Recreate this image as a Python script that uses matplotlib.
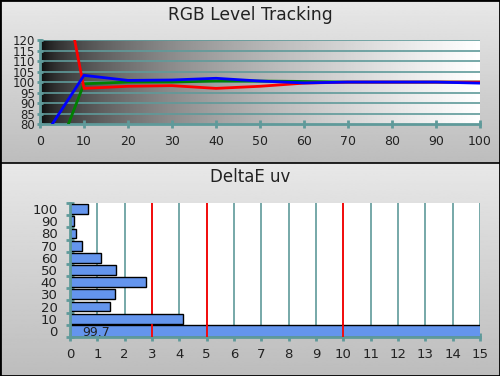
import numpy as np
import matplotlib.pyplot as plt

# RGB level tracking data (stimulus %, level %)
levels = [0, 10, 20, 30, 40, 50, 60, 70, 80, 90, 100]
red = [205, 97, 98, 98.3, 97, 98, 99.5, 100, 100, 100, 100]
green = [45, 99.2, 100, 100, 100.5, 100.5, 100.3, 100, 100, 100, 100]
blue = [71, 103.2, 100.8, 101, 101.8, 100.5, 99.6, 100, 100, 100, 99.5]

# DeltaE uv per gray step
steps = ["0", "10", "20", "30", "40", "50", "60", "70", "80", "90", "100"]
deltae = [99.7, 4.15, 1.45, 1.66, 2.77, 1.70, 1.15, 0.45, 0.23, 0.16, 0.67]
limits = [3, 5, 10]

teal = "#5f9a9a"
txt = "#222222"

fig = plt.figure(figsize=(5, 3.76), dpi=100)

# panel backgrounds (vertical gray gradients)
for bottom, height in [(0.5665, 0.4335), (0.0, 0.5665)]:
    bg = fig.add_axes([0, bottom, 1, height], zorder=-5)
    grad = np.linspace(0.91, 0.74, 256).reshape(-1, 1)
    bg.imshow(grad, cmap="gray", vmin=0, vmax=1, aspect="auto", extent=[0, 1, 0, 1])
    bg.set_axis_off()

frame = fig.add_axes([0, 0, 1, 1], zorder=-4)
frame.set_xlim(0, 1)
frame.set_ylim(0, 1)
frame.patch.set_alpha(0)
frame.set_axis_off()
frame.plot([0, 1, 1, 0, 0], [0.001, 0.001, 0.999, 0.999, 0.001], color="black", lw=2)
frame.plot([0, 1], [0.5665, 0.5665], color="black", lw=1.2)

fig.text(0.5, 0.96, "RGB Level Tracking", ha="center", va="center", fontsize=12.3, color=txt)
fig.text(0.5, 0.53, "DeltaE uv", ha="center", va="center", fontsize=12, color=txt)

# ---- top chart
ax1 = fig.add_axes([0.08, 0.670, 0.88, 0.2234])
xs = np.linspace(0, 1, 400) ** 0.5
ax1.imshow(xs.reshape(1, -1), cmap="gray", vmin=0, vmax=1, aspect="auto",
           extent=[0, 100, 80, 120], zorder=0)
for y in range(85, 121, 5):
    ax1.axhline(y, color=teal, lw=1.2, zorder=1)
ax1.plot(levels, green, color="#008000", lw=2, zorder=3)
ax1.plot(levels, red, color="#ff0000", lw=2, zorder=4)
ax1.plot(levels, blue, color="#0000ff", lw=2, zorder=5)
ax1.set_xlim(0, 100)
ax1.set_ylim(80, 120)
ax1.set_xticks(levels)
ax1.set_yticks(range(80, 121, 5))
for s in ["top", "right"]:
    ax1.spines[s].set_visible(False)
for s in ["left", "bottom"]:
    ax1.spines[s].set_color(teal)
    ax1.spines[s].set_linewidth(2)
ax1.tick_params(axis="both", colors=teal, direction="inout", length=6, width=2,
                labelcolor=txt, labelsize=9)
ax1.tick_params(axis="y", pad=1, length=5, labelsize=8.5)
ax1.tick_params(axis="x", pad=5)

# ---- bottom chart
ax2 = fig.add_axes([0.14, 0.1037, 0.82, 0.3564])
ypos = np.arange(len(steps))
xmax = 15
heights = [1.0 if v > xmax else 0.8 for v in deltae]
for x in range(1, xmax + 1):
    ax2.axvline(x, color=teal, lw=1.2, zorder=1)
for x in limits:
    ax2.axvline(x, color="#ff0000", lw=1.3, zorder=1.5)
ax2.barh(ypos, deltae, height=heights, color="#6495ed", edgecolor="black",
         lw=1, zorder=2)
for x in limits:
    ax2.axvline(x, color="#ff0000", lw=1.3, zorder=3, ymax=1 / len(steps))
ax2.text(0.45, -0.15, f"{deltae[0]:g}", ha="left", va="center", fontsize=9,
         color=txt, zorder=4)
ax2.set_xlim(0, xmax)
ax2.set_ylim(-0.5, len(steps) - 0.5)
ax2.set_xticks(range(0, xmax + 1))
ax2.set_yticks(ypos)
ax2.set_yticklabels(steps)
ax2.set_yticks(np.arange(-0.5, len(steps), 1), minor=True)
for s in ["top", "right"]:
    ax2.spines[s].set_visible(False)
for s in ["left", "bottom"]:
    ax2.spines[s].set_color(teal)
    ax2.spines[s].set_linewidth(2)
ax2.tick_params(axis="x", colors=teal, direction="inout", length=6, width=2,
                labelcolor=txt, labelsize=9.5, pad=5)
ax2.tick_params(axis="y", which="major", length=0, labelcolor=txt, labelsize=9.5, pad=9)
ax2.tick_params(axis="y", which="minor", colors=teal, direction="inout", length=6, width=2)

fig.savefig("out.png", dpi=100)
